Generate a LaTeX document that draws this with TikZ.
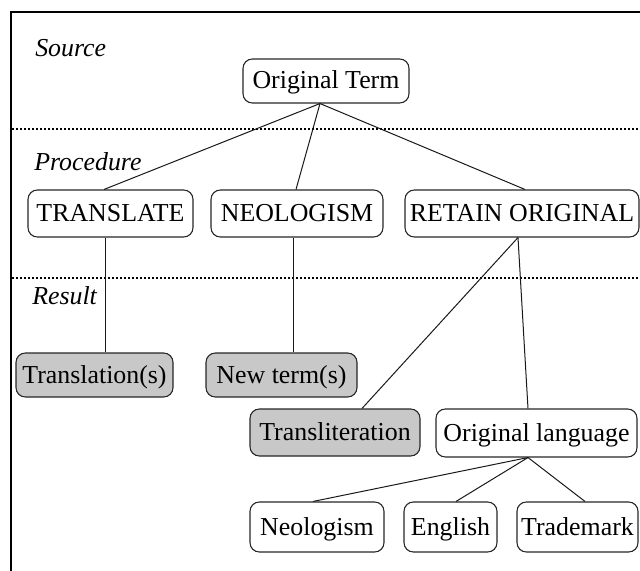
\documentclass[tikz,border=0pt]{standalone}
\usepackage{fontspec}
\setmainfont{Liberation Serif}
\usetikzlibrary{calc}
\definecolor{boxgray}{RGB}{200,200,200}
\tikzset{
  box/.style={draw=black!85, line width=0.8pt, rounded corners=7pt, inner sep=0pt,
    text height=14pt, text depth=2pt, align=center, font=\fontsize{19.4}{22}\selectfont},
  graybox/.style={box, fill=boxgray},
  conn/.style={draw=black!90, line width=0.75pt},
  sep/.style={draw=black, line width=1pt, dash pattern=on 1.2pt off 1.8pt},
  lbl/.style={anchor=base west, inner sep=0pt, font=\fontsize{19.4}{22}\selectfont\itshape},
}
\begin{document}
\begin{tikzpicture}[x=0.75pt, y=-0.75pt]
\useasboundingbox (0,0) rectangle (640,571);
% frame
\draw[line width=1.5pt] (11,571) -- (11,12) -- (640,12);
% separators
\coordinate (s1a) at (12,129); \coordinate (s1b) at (640,129);
\coordinate (s2a) at (12,278); \coordinate (s2b) at (640,278);
\draw[sep] (s1a) -- (s1b);
\draw[sep] (s2a) -- (s2b);
% labels
\node[lbl] (lsrc) at (35,56) {Source};
\node[lbl] (lproc) at (34,170) {Procedure};
\node[lbl] (lres) at (32,304) {Result};
% nodes
\node[box, minimum width=166*0.75pt, minimum height=44*0.75pt] (orig) at (326,81) {Original Term};
\node[box, minimum width=165*0.75pt, minimum height=47*0.75pt] (translate) at (110.5,213.5) {TRANSLATE};
\node[box, minimum width=172*0.75pt, minimum height=47*0.75pt] (neolog) at (297,213.5) {NEOLOGISM};
\node[box, minimum width=234*0.75pt, minimum height=47*0.75pt] (retain) at (522,213.5) {RETAIN ORIGINAL};
\node[graybox, minimum width=157*0.75pt, minimum height=44*0.75pt] (transl) at (94.5,375) {Translation(s)};
\node[graybox, minimum width=151*0.75pt, minimum height=44*0.75pt] (newterm) at (281.5,375) {New term(s)};
\node[graybox, minimum width=170*0.75pt, minimum height=47*0.75pt] (translit) at (335,432.5) {Transliteration};
\node[box, minimum width=201*0.75pt, minimum height=48*0.75pt] (origlang) at (536.5,433) {Original language};
\node[box, minimum width=134*0.75pt, minimum height=50*0.75pt] (neo) at (317,527) {Neologism};
\node[box, minimum width=93*0.75pt, minimum height=50*0.75pt] (english) at (450.5,527) {English};
\node[box, minimum width=121*0.75pt, minimum height=50*0.75pt] (trademark) at (577.5,527) {Trademark};
% connectors
\draw[conn] ($(orig.south)+(-6,0)$) -- ($(translate.north)+(-6.5,0)$);
\draw[conn] ($(orig.south)+(-6,0)$) -- ($(neolog.north)+(-1,0)$);
\draw[conn] ($(orig.south)+(-6,0)$) -- ($(retain.north)+(3,0)$);
\draw[conn] ($(translate.south)+(-5.5,0)$) -- ($(transl.north)+(10.5,0)$);
\draw[conn] ($(neolog.south)+(-4,0)$) -- ($(newterm.north)+(11.5,0)$);
\draw[conn] ($(retain.south)+(-4,0)$) -- ($(translit.north)+(27,0)$);
\draw[conn] ($(retain.south)+(-4,0)$) -- ($(origlang.north)+(-8.5,0)$);
\draw[conn] ($(origlang.south)+(-8.5,0)$) -- ($(neo.north)+(-4,0)$);
\draw[conn] ($(origlang.south)+(-8.5,0)$) -- ($(english.north)+(5.5,0)$);
\draw[conn] ($(origlang.south)+(-8.5,0)$) -- ($(trademark.north)+(7.5,0)$);
\end{tikzpicture}
\end{document}
